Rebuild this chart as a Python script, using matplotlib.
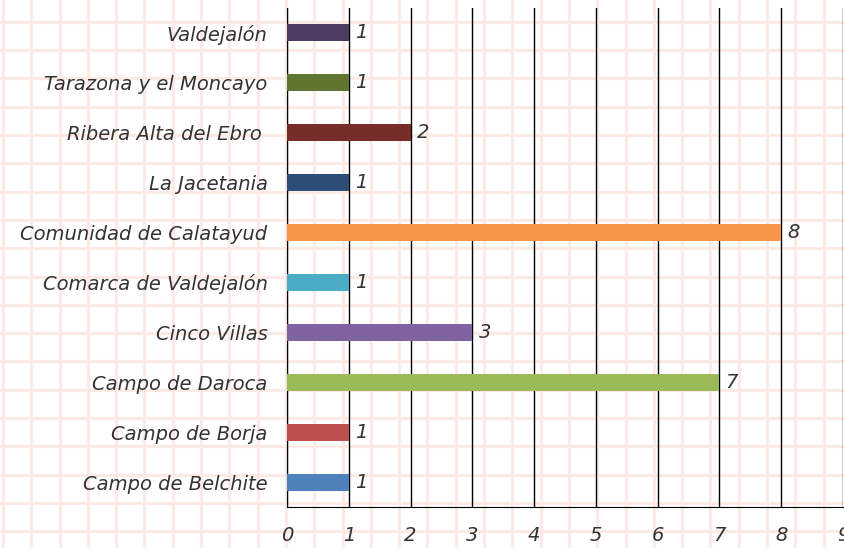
import matplotlib.pyplot as plt
import numpy as np

# datos (de abajo hacia arriba)
comarcas = ["Campo de Belchite", "Campo de Borja", "Campo de Daroca", "Cinco Villas",
            "Comarca de Valdejalón", "Comunidad de Calatayud", "La Jacetania",
            "Ribera Alta del Ebro ", "Tarazona y el Moncayo", "Valdejalón"]
valores = [1, 1, 7, 3, 1, 8, 1, 2, 1, 1]
colores = ["#4F81BD", "#C0504D", "#9BBB59", "#8064A2", "#4BACC6",
           "#F79646", "#2C4D75", "#772C2A", "#5F7530", "#4D3B62"]
xticks = list(range(0, 10))

W, H = 845, 548
fig = plt.figure(figsize=(W / 100, H / 100), dpi=100)
fig.patch.set_facecolor("white")

# fondo cuadriculado rosa
bg = fig.add_axes([0, 0, 1, 1], zorder=0)
bg.set_xlim(0, W)
bg.set_ylim(H, 0)
bg.axis("off")
for x in np.arange(3, W + 30, 28.3):
    bg.axvline(x, color="#FCEAE4", lw=2.3)
for y in np.arange(-6.5, H + 30, 28.3):
    bg.axhline(y, color="#FCEAE4", lw=2.3)

ax = fig.add_axes([287 / W, 1 - 507 / H, (843 - 287) / W, (507 - 8) / H], zorder=1)
ax.patch.set_alpha(0)

pos = np.arange(len(comarcas))
ax.barh(pos, valores, height=0.34, color=colores, zorder=3)
for p, v in zip(pos, valores):
    ax.text(v + 0.1, p, str(v), va="center", ha="left", fontsize=14,
            color="#333333", fontstyle="italic")

ax.set_xlim(0, 9)
ax.set_ylim(-0.5, len(comarcas) - 0.5)
ax.set_xticks(xticks)
ax.set_xticklabels([str(t) for t in xticks], fontstyle="italic")
ax.set_yticks(pos)
ax.set_yticklabels(comarcas, fontstyle="italic")
ax.tick_params(axis="both", length=0, labelsize=14, labelcolor="#333333")
ax.tick_params(axis="y", pad=14)
ax.tick_params(axis="x", pad=14)
ax.grid(axis="x", color="black", lw=1, zorder=1)
ax.set_axisbelow(True)
for s in ["top", "right"]:
    ax.spines[s].set_visible(False)
ax.spines["left"].set_color("black")
ax.spines["bottom"].set_color("black")

fig.savefig("out.png", dpi=100)
